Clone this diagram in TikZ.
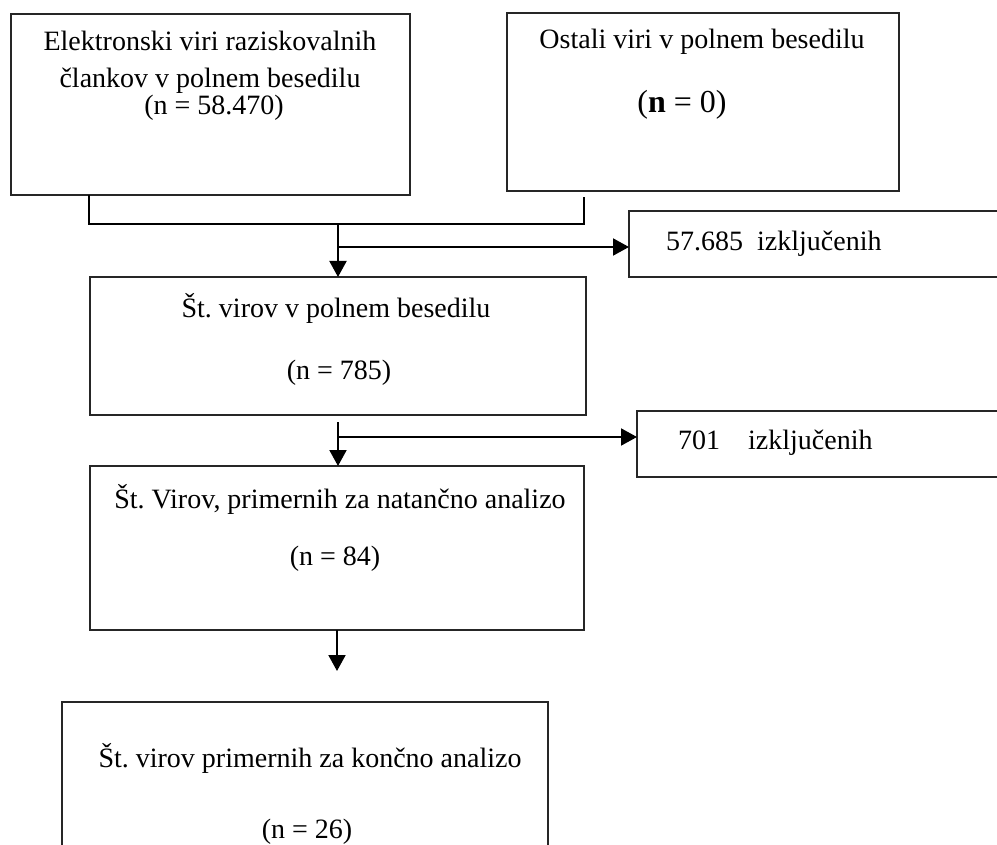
\documentclass[tikz,border=0pt]{standalone}
\usepackage{fontspec}
\setmainfont{Liberation Serif}
\usetikzlibrary{arrows.meta}
\frenchspacing
\begin{document}
\begin{tikzpicture}[x=1pt,y=-1pt,
  box/.style={draw=black!85, line width=2pt, rectangle, inner sep=0pt, outer sep=0pt},
  ebox/.style={draw=black!85, line width=1.6pt, rectangle, inner sep=0pt, outer sep=0pt},
  txt/.style={anchor=base, inner sep=0pt, font=\fontsize{28}{34}\selectfont},
  conn/.style={line width=2pt, black},
  arr/.style={line width=2pt, black, -{Triangle[length=16pt,width=17pt]}}]
\useasboundingbox (0,0) rectangle (997,845);
% boxes
\node[box, minimum width=399pt, minimum height=181pt] (b1) at (210.5,104.5) {};
\node[box, minimum width=392pt, minimum height=178pt] (b2) at (703,102) {};
\node[ebox, minimum width=381pt, minimum height=66pt] (e1) at (819.5,244) {};
\node[box, minimum width=496pt, minimum height=138pt] (b3) at (338,346) {};
\node[ebox, minimum width=373pt, minimum height=66pt] (e2) at (823.5,444) {};
\node[box, minimum width=494pt, minimum height=164pt] (b4) at (337,548) {};
\node[ebox, minimum width=486pt, minimum height=168pt] (b5) at (305,786) {};
% texts
\node[txt] (t1a) at (210,51) {Elektronski viri raziskovalnih};
\node[txt] (t1b) at (210,88) {člankov v polnem besedilu};
\node[txt] (t1c) at (214,115) {(n = 58.470)};
\node[txt] (t2a) at (702,49) {Ostali viri v polnem besedilu};
\node[txt, font=\fontsize{32}{38}\selectfont] (t2b) at (682,113) {(\textbf{n} = 0)};
\node[txt, anchor=base west] (te1) at (666,251) {57.685\ \ izključenih};
\node[txt] (t3a) at (336,318) {Št. virov v polnem besedilu};
\node[txt] (t3b) at (339,380) {(n = 785)};
\node[txt, anchor=base west] (te2a) at (678,449) {701};
\node[txt, anchor=base west] (te2b) at (748,449) {izključenih};
\node[txt] (t4a) at (340,508) {Št. Virov, primernih za natančno analizo};
\node[txt] (t4b) at (335,565) {(n = 84)};
\node[txt] (t5a) at (310,767) {Št. virov primernih za končno analizo};
\node[txt] (t5b) at (307,838) {(n = 26)};
% connectors
\coordinate (jl) at (89,224);
\coordinate (jr) at (584,224);
\coordinate (jrt) at (584,197);
\coordinate (jm) at (338,224);
\coordinate (k1) at (338,247);
\coordinate (s2) at (338,422);
\coordinate (k2) at (338,437);
\coordinate (s3) at (337,671);
\draw[conn] (b1.south -| jl) -- (jl) -- (jr) -- (jrt);
\draw[arr] (jm) -- (jm |- b3.north);
\draw[arr] (k1) -- (k1 -| e1.west);
\draw[arr] (s2) -- (s2 |- b4.north);
\draw[arr] (k2) -- (k2 -| e2.west);
\draw[arr] (b4.south -| s3) -- (s3);
\end{tikzpicture}
\end{document}
